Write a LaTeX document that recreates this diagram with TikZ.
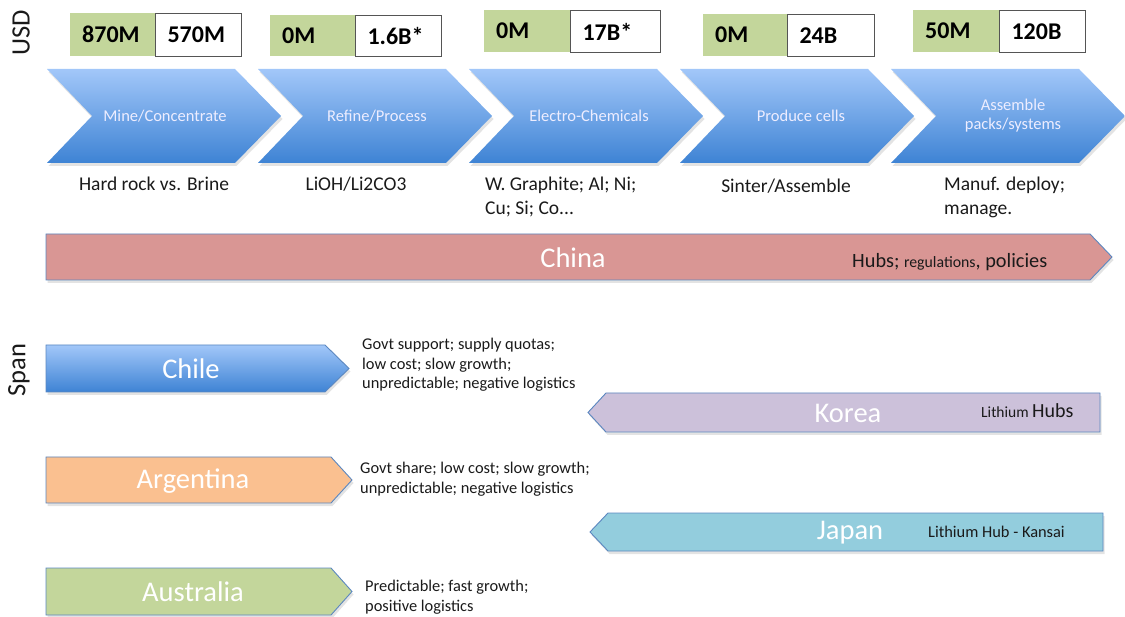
\documentclass[tikz,border=0pt]{standalone}
\usepackage{fontspec}
\setmainfont{Carlito}
\usetikzlibrary{shadows}
\definecolor{grn}{HTML}{C3D69B}
\definecolor{chinaR}{HTML}{D99694}
\definecolor{argO}{HTML}{FAC090}
\definecolor{korP}{HTML}{CCC1DA}
\definecolor{japB}{HTML}{93CDDD}
\definecolor{edgeB}{HTML}{5B87C0}
\definecolor{chTop}{HTML}{A2C7F9}
\definecolor{chMid}{HTML}{7AAFEE}
\definecolor{chBot}{HTML}{3E83D4}
\definecolor{txt}{HTML}{1A1A1A}
\definecolor{boxedge}{HTML}{555555}
\begin{document}
\begin{tikzpicture}[x=1pt,y=-1pt,
  valbox/.style={anchor=north west, inner xsep=12pt, inner ysep=0pt, align=left,
     font=\fontsize{24}{28}\selectfont\bfseries, text=black},
  gbox/.style={valbox, fill=grn},
  wbox/.style={valbox, fill=white, draw=boxedge, line width=1pt},
  chev/.style={shade, top color=chTop, middle color=chMid, bottom color=chBot,
     drop shadow={shadow xshift=1.5pt, shadow yshift=-3pt, opacity=0.22}},
  chevtext/.style={text=white!93!blue, font=\fontsize{16.5}{19}\selectfont, align=center},
  sub/.style={text=txt, font=\fontsize{19.5}{24}\selectfont, align=left},
  cty/.style={draw=edgeB, line width=0.9pt,
     drop shadow={shadow xshift=1.5pt, shadow yshift=-3pt, opacity=0.22}},
  ctyname/.style={text=white, font=\fontsize{28.5}{32}\selectfont},
  desc/.style={text=txt, font=\fontsize{16.4}{19.5}\selectfont, align=left, anchor=west, inner sep=0pt},
  axis/.style={rotate=90, text=txt, font=\fontsize{26.5}{30}\selectfont}
]
\useasboundingbox (0,0) rectangle (1125,617);

% axis labels
\node[axis] (usd) at (21,33) {USD};
\node[axis] (span) at (19,370) {Span};

% value boxes
\node[gbox, text width=61pt, minimum height=43pt] (g1) at (70,13) {870M};
\node[wbox, text width=62pt, minimum height=43pt] (w1) at (155,13) {570M};
\node[gbox, text width=61pt, minimum height=41pt] (g2) at (270,15) {0M};
\node[wbox, text width=62pt, minimum height=41pt] (w2) at (355,15) {1.6B*};
\node[gbox, text width=62pt, minimum height=42pt] (g3) at (484,10) {0M};
\node[wbox, text width=66pt, minimum height=42pt] (w3) at (570,10) {17B*};
\node[gbox, text width=60pt, minimum height=42pt] (g4) at (703,14) {0M};
\node[wbox, text width=63pt, minimum height=42pt] (w4) at (787,14) {24B};
\node[gbox, text width=62pt, minimum height=42pt] (g5) at (913,10) {50M};
\node[wbox, text width=62pt, minimum height=42pt] (w5) at (999,10) {120B};

% chevrons
\foreach \i in {0,...,4}{
  \pgfmathsetmacro{\L}{47+211*\i}
  \path[chev] (\L,69) -- (\L+188,69) -- (\L+234,116) -- (\L+188,163) -- (\L,163) -- (\L+45,116) -- cycle;
}
\node[chevtext] (c1) at (165,116) {Mine/Concentrate};
\node[chevtext] (c2) at (377,116) {Refine/Process};
\node[chevtext] (c3) at (589,116) {Electro-Chemicals};
\node[chevtext] (c4) at (801,116) {Produce cells};
\node[chevtext] (c5) at (1013,116) {Assemble\\packs/systems};

% sub labels
\node[sub] (l1) at (154,184) {Hard rock vs. Brine};
\node[sub] (l2) at (356,184) {LiOH/Li2CO3};
\node[sub, anchor=west, inner sep=0pt] (l3) at (485,197) {W. Graphite; Al; Ni;\\Cu; Si; Co...};
\node[sub] (l4) at (786,186) {Sinter/Assemble};
\node[sub, anchor=west, inner sep=0pt] (l5) at (944,197) {Manuf. deploy;\\manage.};

% China
\path[cty, fill=chinaR] (46,234) -- (1090,234) -- (1112,257) -- (1090,280) -- (46,280) -- cycle;
\node[ctyname] (china) at (573,258) {China};
\node[anchor=west, inner sep=0pt, text=txt] (chinad) at (852,262)
  {\fontsize{20.3}{23}\selectfont Hubs; \fontsize{15.8}{18}\selectfont regulations\fontsize{20.3}{23}\selectfont, policies};

% Chile
\path[cty, shade, top color=chTop, middle color=chMid, bottom color=chBot]
  (46,345) -- (325,345) -- (349,368.5) -- (325,392) -- (46,392) -- cycle;
\node[ctyname] (chile) at (191,369) {Chile};
\node[desc] (chiled) at (362,365) {Govt support; supply quotas;\\low cost; slow growth;\\unpredictable; negative logistics};

% Argentina
\path[cty, fill=argO] (46,457) -- (331,457) -- (352,480) -- (331,503) -- (46,503) -- cycle;
\node[ctyname] (arg) at (193,481) {Argentina};
\node[desc] (argd) at (360,479) {Govt share; low cost; slow growth;\\unpredictable; negative logistics};

% Australia
\path[cty, fill=grn] (46,568) -- (331,568) -- (352,591.5) -- (331,615) -- (46,615) -- cycle;
\node[ctyname] (aus) at (193,592) {Australia};
\node[desc] (ausd) at (365,597) {Predictable; fast growth;\\positive logistics};

% Korea
\path[cty, fill=korP] (1100,393) -- (606,393) -- (588,412.5) -- (606,432) -- (1100,432) -- cycle;
\node[ctyname] (korea) at (848,413) {Korea};
\node[anchor=west, inner sep=0pt, text=txt] (kord) at (981,411)
  {\fontsize{15.5}{18}\selectfont Lithium \fontsize{20}{23}\selectfont Hubs};

% Japan
\path[cty, fill=japB] (1103,513) -- (608,513) -- (590,532) -- (608,551) -- (1103,551) -- cycle;
\node[ctyname] (japan) at (850,533) {Japan};
\node[anchor=west, inner sep=0pt, text=txt, font=\fontsize{16.4}{19}\selectfont] (japd) at (928,532) {Lithium Hub - Kansai};
\end{tikzpicture}
\end{document}
